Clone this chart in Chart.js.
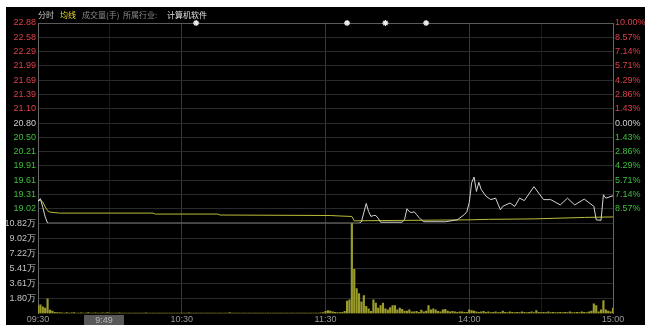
<!DOCTYPE html>
<html>
<head>
<meta charset="utf-8">
<script src="https://cdn.jsdelivr.net/npm/chart.js@4.4.0/dist/chart.umd.min.js"></script>
<style>
body{margin:0;background:#fff;width:648px;height:325px;overflow:hidden}
#wrap{position:absolute;left:6px;top:7px;width:639px;height:318px;background:#000}
canvas{position:absolute;left:0;top:0}
.h{position:absolute;top:2px;font:8px "Noto Sans CJK SC",sans-serif;line-height:11px;white-space:nowrap}
</style>
</head>
<body>
<div id="wrap">
<canvas id="c" width="639" height="318"></canvas>
<span class="h" style="left:32px;color:#c8c8c8">分时</span>
<span class="h" style="left:54px;color:#e6dc32">均线</span>
<span class="h" style="left:76px;color:#8a8a8a">成交量(手)</span>
<span class="h" style="left:117px;color:#8a8a8a">所属行业:</span>
<span class="h" style="left:161px;color:#e0e0e0">计算机软件</span>
</div>
<script>
// minute index: 0 = 09:30, 120 = 11:30 / 13:00, 240 = 15:00
const timeMin = [0, 60, 120, 180, 240];
const timeTicks = ['09:30', '10:30', '11:30', '14:00', '15:00'];
const gridMin = [0, 30, 60, 120, 180, 210, 240];

const priceTicks = ['22.88','22.58','22.29','21.99','21.69','21.39','21.10','20.80','20.50','20.21','19.91','19.61','19.31','19.02'];
const pctTicks = ['10.00%','8.57%','7.14%','5.71%','4.29%','2.86%','1.43%','0.00%','1.43%','2.86%','4.29%','5.71%','7.14%','8.57%'];
const volTicks = ['10.82万','9.02万','7.22万','5.41万','3.61万','1.80万'];

const priceMin = [0,1,2,3,4,134,135,137,138,139,140,141,142,143,152,153,154,155,156,157,158,159,160,161,170,175,178,179,180,181,182,183,184,185,187,189,191,193,194,197,199,201,203,207,211,214,218,221,224,228,232,233,235,236,237,240];
const price = [19.18,19.23,19.05,18.85,18.72,18.72,18.75,19.13,18.96,18.86,18.88,18.88,18.82,18.74,18.74,18.80,19.02,18.96,18.94,18.96,18.90,18.84,18.79,18.75,18.75,18.79,18.90,18.96,19.15,19.56,19.68,19.38,19.57,19.42,19.28,19.21,19.24,19.00,19.07,19.14,19.07,19.24,19.19,19.48,19.21,19.21,19.10,19.24,19.10,19.22,19.07,18.79,18.78,19.31,19.24,19.29];

const avgMin = [0,1,2,3,4,5,9,48,49,75,76,122,126,131,132,180,188,207,228,240];
const avg = [19.18,19.20,19.16,19.06,18.98,18.95,18.93,18.93,18.91,18.91,18.89,18.88,18.87,18.86,18.77,18.79,18.80,18.81,18.84,18.85];

// volume per minute, in 万手
const volume = [
  0.9,1.05,0.8,0.65,1.75,0.4,0.3,0.15,0.12,0.1,
  0.08,0.06,0.1,0.05,0.07,0.12,0.05,0.06,0.08,0.05,
  0.06,0.1,0.05,0.04,0.08,0.06,0.05,0.07,0.05,0.1,
  0.05,0.06,0.04,0.05,0.08,0.05,0.06,0.04,0.05,0.06,
  0.05,0.04,0.06,0.05,0.04,0.07,0.05,0.04,0.05,0.06,
  0.05,0.04,0.05,0.04,0.06,0.05,0.04,0.05,0.04,0.05,
  0.06,0.05,0.04,0.08,0.05,0.04,0.06,0.05,0.04,0.05,
  0.04,0.05,0.06,0.04,0.05,0.04,0.05,0.06,0.04,0.05,
  0.1,0.05,0.04,0.05,0.06,0.04,0.05,0.04,0.05,0.06,
  0.04,0.05,0.04,0.06,0.05,0.04,0.05,0.06,0.04,0.05,
  0.05,0.04,0.06,0.05,0.04,0.05,0.04,0.05,0.06,0.04,
  0.05,0.04,0.06,0.05,0.04,0.05,0.06,0.05,0.08,0.1,
  0.25,0.35,0.3,0.2,0.15,0.12,0.1,0.15,0.25,1.5,
  1.65,11.3,5.3,3.0,2.4,1.4,2.15,0.85,0.55,0.25,
  1.65,1.25,0.65,0.95,1.25,0.55,0.45,0.7,0.95,0.95,
  0.45,0.65,0.5,0.3,0.3,0.45,0.2,0.2,0.25,0.15,
  0.4,0.2,0.3,0.95,0.45,0.55,0.45,0.25,0.2,0.45,
  0.5,0.3,0.2,0.25,0.2,0.15,0.2,0.2,0.15,0.15,
  0.45,0.35,0.3,0.2,0.15,0.2,0.25,0.15,0.2,0.1,
  0.15,0.2,0.1,0.15,0.3,0.15,0.1,0.2,0.15,0.1,
  0.15,0.1,0.2,0.15,0.1,0.15,0.2,0.1,0.35,0.15,
  0.1,0.15,0.1,0.2,0.1,0.15,0.1,0.1,0.15,0.1,
  0.15,0.1,0.2,0.1,0.1,0.15,0.1,0.2,0.15,0.1,
  0.2,0.3,1.15,0.95,0.2,0.45,1.55,0.45,0.3,0.2,0.65
];

const starMin = [66, 129, 145, 162];
const cursorMin = 19;
const cursorLabel = '9:49';

const FONT = '"Liberation Sans", Arial, sans-serif';
const RED = '#d8414a', GREEN = '#3fbf3f', FLAT = '#d0d0d0';
const tickColor = i => i < 7 ? RED : (i === 7 ? FLAT : GREEN);
const PMIN = 18.72, PMAX = 22.88;

const cursorBox = {
  id: 'cursorBox',
  afterDraw(chart) {
    const c = chart.ctx;
    const x = chart.scales.x.getPixelForValue(cursorMin);
    const b = chart.chartArea.bottom;
    c.save();
    c.fillStyle = '#585858';
    c.fillRect(Math.round(x), Math.round(b) + 1, 40, 12);
    c.fillStyle = '#b8b8b8';
    c.font = '9px ' + FONT;
    c.textAlign = 'center';
    c.textBaseline = 'middle';
    c.fillText(cursorLabel, Math.round(x) + 20, Math.round(b) + 7);
    c.restore();
  }
};

new Chart(document.getElementById('c'), {
  data: {
    datasets: [
      {type: 'scatter', yAxisID: 'yP', data: starMin.map(m => ({x: m, y: PMAX})),
       pointStyle: 'star', radius: 3, borderColor: '#eeeeee', backgroundColor: '#eeeeee', borderWidth: 1.3, clip: false, order: 0},
      {type: 'line', yAxisID: 'yP', data: priceMin.map((m, i) => ({x: m, y: price[i]})),
       borderColor: '#d4d4d4', borderWidth: 1, pointRadius: 0, tension: 0, order: 1},
      {type: 'line', yAxisID: 'yP', data: avgMin.map((m, i) => ({x: m, y: avg[i]})),
       borderColor: '#bcbc38', borderWidth: 1, pointRadius: 0, tension: 0, order: 2},
      {type: 'bar', yAxisID: 'yV', data: volume.map((v, i) => ({x: i, y: v})),
       backgroundColor: '#9c9c2c', barThickness: 1.5, order: 3}
    ]
  },
  options: {
    responsive: false,
    animation: false,
    devicePixelRatio: 1,
    events: [],
    layout: {padding: {top: 16, left: 0, right: 0, bottom: 0}},
    plugins: {legend: {display: false}, tooltip: {enabled: false}},
    scales: {
      x: {
        type: 'linear', min: 0, max: 240, offset: false,
        afterBuildTicks: s => { s.ticks = gridMin.map(v => ({value: v})); },
        afterFit: s => { s.height = 11.5; },
        ticks: {
          autoSkip: false, maxRotation: 0, padding: 1, color: '#9a9a9a', font: {size: 9, family: FONT},
          callback: v => { const k = timeMin.indexOf(v); return k < 0 ? '' : timeTicks[k]; }
        },
        grid: {offset: false, drawTicks: false, color: c => (c.tick && timeMin.indexOf(c.tick.value) >= 0) ? '#383838' : '#1c1c1c'},
        border: {display: false}
      },
      // left side stacks are placed in reverse order, so the volume axis comes first
      yV: {
        type: 'linear', position: 'left', stack: 'v', stackWeight: 90.2, min: 0, max: 10.82,
        afterBuildTicks: s => { s.ticks = volTicks.map(t => ({value: parseFloat(t)})); },
        afterFit: s => { s.width = 32; },
        ticks: {autoSkip: false, padding: 2, font: {size: 9, family: FONT}, color: '#c4c4c4', callback: (v, i) => volTicks[i]},
        grid: {drawTicks: false, color: '#2a2a2a'},
        border: {color: '#666666'}
      },
      yP: {
        type: 'linear', position: 'left', stack: 'v', stackWeight: 200, min: PMIN, max: PMAX,
        afterBuildTicks: s => { s.ticks = priceTicks.map(t => ({value: parseFloat(t)})); },
        afterFit: s => { s.width = 32; },
        ticks: {autoSkip: false, padding: 2, font: {size: 9, family: FONT}, color: c => tickColor(c.index), callback: (v, i) => priceTicks[i]},
        grid: {drawTicks: false, color: c => c.index === 0 ? '#5a5a5a' : '#2a2a2a'},
        border: {color: '#666666'}
      },
      yPct: {
        type: 'linear', position: 'right', stack: 'v', stackWeight: 200, min: PMIN, max: PMAX,
        afterBuildTicks: s => { s.ticks = priceTicks.map(t => ({value: parseFloat(t)})); },
        afterFit: s => { s.width = 32; },
        ticks: {autoSkip: false, padding: 2, font: {size: 9, family: FONT}, color: c => tickColor(c.index), callback: (v, i) => pctTicks[i]},
        grid: {display: false, drawTicks: false},
        border: {color: '#666666'}
      },
      yVR: {
        type: 'linear', position: 'right', stack: 'v', stackWeight: 90.2, min: 0, max: 10.82,
        afterFit: s => { s.width = 32; },
        ticks: {display: false},
        grid: {display: false, drawTicks: false},
        border: {color: '#666666'}
      }
    }
  },
  plugins: [cursorBox]
});
</script>
</body>
</html>
